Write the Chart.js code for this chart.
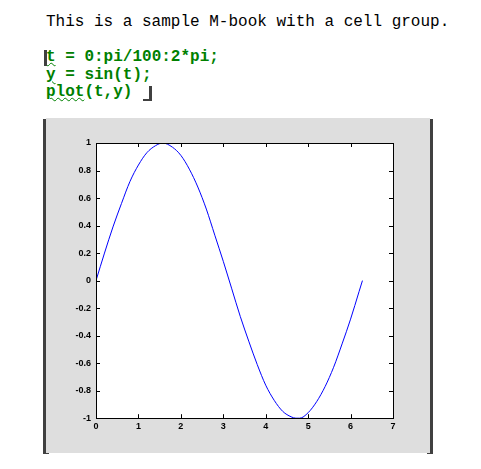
<!DOCTYPE html>
<html>
<head>
<meta charset="utf-8">
<script src="https://cdn.jsdelivr.net/npm/chart.js@4"></script>
<style>
  body { margin: 0; background: #fff; width: 481px; height: 469px; position: relative; overflow: hidden; }
  .txt { position: absolute; left: 46px; font: 16px 'Liberation Mono', 'Courier New', monospace; white-space: pre; line-height: 17px; }
  .code { color: #008000; font-weight: bold; }
  .sq { text-decoration: underline wavy #008000; text-decoration-thickness: 1px; text-underline-offset: 1px; }
  .br { position: absolute; background: #404040; }
  #box { position: absolute; left: 46px; top: 118px; width: 384px; height: 335px; background: #dedede; }
</style>
</head>
<body>
<div class="txt" style="top:14px">This is a sample M-book with a cell group.</div>
<div class="txt code" style="top:49px"><span class="sq">t</span> = 0:pi/100:2*pi;</div>
<div class="txt code" style="top:67px"><span class="sq">y</span> = sin(t);</div>
<div class="txt code" style="top:84px"><span class="sq">plot</span>(t,y)</div>

<!-- code cell brackets -->
<div class="br" style="left:44px;top:50px;width:3px;height:16px"></div>
<div class="br" style="left:149px;top:86px;width:3px;height:15px"></div>
<div class="br" style="left:143px;top:99px;width:9px;height:2px"></div>

<!-- figure brackets -->
<div class="br" style="left:43px;top:119px;width:3px;height:335px"></div>
<div class="br" style="left:43px;top:119px;width:6px;height:2px"></div>
<div class="br" style="left:43px;top:452px;width:6px;height:2px"></div>
<div class="br" style="left:430px;top:119px;width:3px;height:335px"></div>
<div class="br" style="left:427px;top:119px;width:6px;height:2px"></div>
<div class="br" style="left:427px;top:452px;width:6px;height:2px"></div>

<div id="box"><canvas id="chart" width="384" height="335"></canvas></div>

<script>
// values
const tValues = [0, 0.2, 0.4, 0.6, 0.8, 1.0, 1.2, 1.4, 1.57, 1.8, 2.0, 2.2, 2.4, 2.6, 2.8, 3.0,
  3.2, 3.4, 3.6, 3.8, 4.0, 4.2, 4.4, 4.6, 4.71, 4.8, 5.0, 5.2, 5.4, 5.6, 5.8, 6.0, 6.2, 6.28]
const yValues = [0, 0.2, 0.39, 0.56, 0.72, 0.84, 0.93, 0.98, 1.0, 0.97, 0.91, 0.81, 0.68, 0.52, 0.33, 0.14,
  -0.06, -0.26, -0.44, -0.61, -0.76, -0.87, -0.95, -0.99, -1.0, -1.0, -0.96, -0.88, -0.77, -0.63, -0.46, -0.28, -0.08, 0]
const xTicks = [0, 1, 2, 3, 4, 5, 6, 7]
const yTicks = [-1, -0.8, -0.6, -0.4, -0.2, 0, 0.2, 0.4, 0.6, 0.8, 1]

const points = tValues.map((t, i) => ({ x: t, y: yValues[i] }))

const fmt = v => String(Number(v.toFixed(1)))

// white axes background
const whiteArea = {
  id: 'whiteArea',
  beforeDraw (chart) {
    const a = chart.chartArea
    chart.ctx.save()
    chart.ctx.fillStyle = '#fff'
    chart.ctx.fillRect(a.left, a.top, a.right - a.left, a.bottom - a.top)
    chart.ctx.restore()
  }
}

// box around the axes with inward ticks on all four sides
const boxTicks = {
  id: 'boxTicks',
  afterDraw (chart) {
    const ctx = chart.ctx
    const a = chart.chartArea
    const sx = chart.scales.x
    const sy = chart.scales.y
    const len = 4
    ctx.save()
    ctx.strokeStyle = '#000'
    ctx.lineWidth = 1
    ctx.strokeRect(Math.round(a.left) + 0.5, Math.round(a.top) + 0.5, Math.round(a.right - a.left), Math.round(a.bottom - a.top))
    ctx.beginPath()
    xTicks.forEach(v => {
      const px = Math.round(sx.getPixelForValue(v)) + 0.5
      ctx.moveTo(px, a.bottom); ctx.lineTo(px, a.bottom - len)
      ctx.moveTo(px, a.top); ctx.lineTo(px, a.top + len)
    })
    yTicks.forEach(v => {
      const py = Math.round(sy.getPixelForValue(v)) + 0.5
      ctx.moveTo(a.left, py); ctx.lineTo(a.left + len, py)
      ctx.moveTo(a.right, py); ctx.lineTo(a.right - len, py)
    })
    ctx.stroke()
    ctx.restore()
  }
}

const tickFont = { family: "'Liberation Sans Narrow', 'Liberation Sans', Arial", size: 9, weight: 'bold' }

new Chart(document.getElementById('chart'), {
  type: 'scatter',
  data: {
    datasets: [{
      data: points,
      showLine: true,
      borderColor: '#0000ff',
      borderWidth: 1,
      pointRadius: 0,
      tension: 0.3,
      cubicInterpolationMode: 'monotone'
    }]
  },
  options: {
    responsive: false,
    animation: false,
    layout: { padding: { left: 10, top: 25, right: 37, bottom: 18 } },
    plugins: { legend: { display: false }, tooltip: { enabled: false } },
    scales: {
      x: {
        type: 'linear',
        min: 0,
        max: 7,
        grid: { display: false, drawTicks: false, tickLength: 0 },
        border: { display: false },
        ticks: { stepSize: 1, color: '#000', font: tickFont, padding: 3, minRotation: 0, maxRotation: 0, autoSkip: false, callback: fmt }
      },
      y: {
        type: 'linear',
        min: -1,
        max: 1,
        afterFit: s => { s.width = 40 },
        grid: { display: false, drawTicks: false, tickLength: 0 },
        border: { display: false },
        ticks: { stepSize: 0.2, color: '#000', font: tickFont, padding: 5, callback: fmt }
      }
    }
  },
  plugins: [whiteArea, boxTicks]
})
</script>
</body>
</html>
